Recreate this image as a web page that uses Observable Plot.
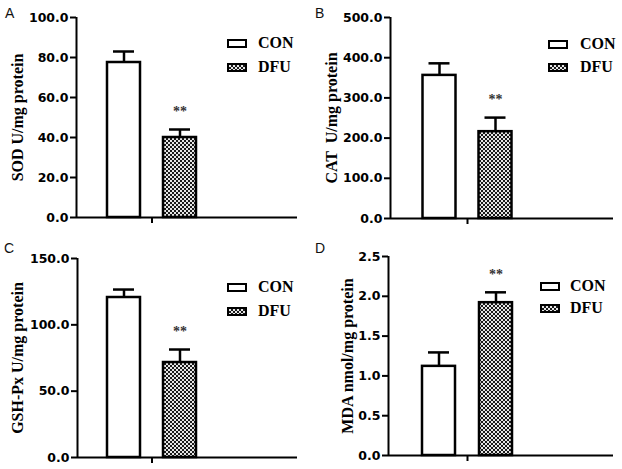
<!DOCTYPE html>
<html>
<head>
<meta charset="utf-8">
<script src="https://cdn.jsdelivr.net/npm/d3@7"></script>
<script src="https://cdn.jsdelivr.net/npm/@observablehq/plot@0.6"></script>
<style>
  html, body { margin: 0; padding: 0; background: white; }
  #fig { position: relative; width: 622px; height: 469px; overflow: hidden; background: white; }
  .panel { position: absolute; }
  .letter { position: absolute; font-family: "Liberation Sans", Arial, sans-serif; font-size: 14px; line-height: 14px; color: #111; }
  .lbox { position: absolute; width: 20px; height: 9px; border: 2.5px solid #000; box-sizing: border-box; }
  .ltext { position: absolute; font-family: "Liberation Serif", "Times New Roman", serif; font-weight: bold; font-size: 16px; line-height: 16px; color: #000; white-space: pre; }
  svg g[aria-label="y-axis tick"], svg g[aria-label="x-axis tick"] { stroke-width: 2px; }
  .tick line { stroke-width: 2px; }
</style>
</head>
<body>
<svg width="0" height="0" style="position:absolute">
  <defs>
    <pattern id="checker" width="4" height="4" patternUnits="userSpaceOnUse">
      <rect width="4" height="4" fill="#e6e6e6"></rect>
      <rect width="2" height="2" fill="#1a1a1a"></rect>
      <rect x="2" y="2" width="2" height="2" fill="#1a1a1a"></rect>
    </pattern>
  </defs>
</svg>
<div id="fig"></div>
<script>
// ---- data ----
const groups = ["CON", "DFU"];
const panelLetters = ["A", "B", "C", "D"];
const yLabels = ["SOD U/mg protein", "CAT  U/mg protein", "GSH-Px U/mg protein", "MDA nmol/mg protein"];
const sigMarks = ["", "**"];

const sodMean = [77.5, 40.0];
const sodErr = [5.5, 4.0];
const catMean = [356, 216];
const catErr = [30, 35];
const gshMean = [120.6, 71.6];
const gshErr = [6.0, 9.8];
const mdaMean = [1.12, 1.92];
const mdaErr = [0.175, 0.13];

const sodTicks = [0, 20, 40, 60, 80, 100];
const catTicks = [0, 100, 200, 300, 400, 500];
const gshTicks = [0, 50, 100, 150];
const mdaTicks = [0, 0.5, 1.0, 1.5, 2.0, 2.5];

const panels = [
  {means: sodMean, errs: sodErr, ticks: sodTicks},
  {means: catMean, errs: catErr, ticks: catTicks},
  {means: gshMean, errs: gshErr, ticks: gshTicks},
  {means: mdaMean, errs: mdaErr, ticks: mdaTicks}
];

// ---- layout (pixels) ----
const layouts = [
  {left: 0,   top: 0,   w: 311, h: 235, ml: 76, mr: 14, mt: 17, mb: 18, first: 47.5, step: 56, labelDx: -59, legX: 227, legY: 39, legGap: 24, textX: 258, letterX: 5},
  {left: 311, top: 0,   w: 311, h: 235, ml: 79, mr: 9,  mt: 17, mb: 17, first: 49,   step: 56, labelDx: -59, legX: 237, legY: 40, legGap: 23, textX: 269, letterX: 4},
  {left: 0,   top: 235, w: 311, h: 234, ml: 77, mr: 14, mt: 23, mb: 12, first: 46.5, step: 56, labelDx: -60, legX: 227, legY: 48, legGap: 24, textX: 258, letterX: 4},
  {left: 311, top: 235, w: 311, h: 234, ml: 77, mr: 9,  mt: 21, mb: 14, first: 50.5, step: 57, labelDx: -41, legX: 229, legY: 47, legGap: 22, textX: 259, letterX: 4}
];

const fig = document.getElementById("fig");
const serif = "'Liberation Serif', 'Times New Roman', serif";

panels.forEach((P, i) => {
  const L = layouts[i];
  const rows = groups.map((g, j) => ({group: g, pos: j + 1, mean: P.means[j], err: P.errs[j], sig: sigMarks[j]}));
  const frameW = L.w - L.ml - L.mr;
  const d0 = 1 - L.first / L.step;
  const d1 = d0 + frameW / L.step;
  const hw = 16.5 / L.step;   // half bar width
  const cw = 10.5 / L.step;   // half cap width
  const ymax = P.ticks[P.ticks.length - 1];

  const chart = Plot.plot({
    width: L.w, height: L.h,
    marginLeft: L.ml, marginRight: L.mr, marginTop: L.mt, marginBottom: L.mb,
    style: {fontFamily: "'DejaVu Sans', sans-serif", fontSize: "12.5px", fontWeight: "bold", color: "black", background: "white", overflow: "visible"},
    x: {domain: [d0, d1], ticks: [1.5], tickFormat: () => "", tickSize: 6, label: null},
    y: {domain: [0, ymax], ticks: P.ticks, tickFormat: d => d.toFixed(1), tickSize: 6, tickPadding: 2, label: null},
    marks: [
      Plot.rect(rows.filter(d => d.group === groups[0]), {x1: d => d.pos - hw, x2: d => d.pos + hw, y1: 0, y2: "mean", fill: "white", stroke: "black", strokeWidth: 2.5}),
      Plot.rect(rows.filter(d => d.group === groups[1]), {x1: d => d.pos - hw, x2: d => d.pos + hw, y1: 0, y2: "mean", fill: "url(#checker)", stroke: "black", strokeWidth: 2.5}),
      Plot.ruleX(rows, {x: "pos", y1: "mean", y2: d => d.mean + d.err, strokeWidth: 2.5}),
      Plot.ruleY(rows, {y: d => d.mean + d.err, x1: d => d.pos - cw, x2: d => d.pos + cw, strokeWidth: 2.5}),
      Plot.text(rows.filter(d => d.sig), {x: "pos", y: d => d.mean + d.err, text: "sig", dy: -18, fontFamily: serif, fontSize: 14, fontWeight: "bold", fill: "#333"}),
      Plot.ruleX([d0], {strokeWidth: 2}),
      Plot.ruleY([0], {strokeWidth: 2}),
      Plot.text([yLabels[i]], {frameAnchor: "left", textAnchor: "middle", lineAnchor: "middle", rotate: -90, dx: L.labelDx, text: d => d, fontFamily: serif, fontSize: 16, fontWeight: "bold"})
    ]
  });

  const div = document.createElement("div");
  div.className = "panel";
  div.style.left = L.left + "px";
  div.style.top = L.top + "px";
  div.style.width = L.w + "px";
  div.style.height = L.h + "px";
  div.appendChild(chart);

  // panel letter
  const letter = document.createElement("div");
  letter.className = "letter";
  letter.textContent = panelLetters[i];
  letter.style.left = L.letterX + "px";
  letter.style.top = "6px";
  div.appendChild(letter);

  // legend
  groups.forEach((g, j) => {
    const by = L.legY + j * L.legGap;
    const box = document.createElement("div");
    box.className = "lbox";
    box.style.left = L.legX + "px";
    box.style.top = by + "px";
    box.style.background = j === 0 ? "white" : "repeating-conic-gradient(#1a1a1a 0% 25%, #e6e6e6 0% 50%) 0 0 / 4px 4px";
    div.appendChild(box);
    const t = document.createElement("div");
    t.className = "ltext";
    t.textContent = g;
    t.style.left = L.textX + "px";
    t.style.top = (by - 3.6) + "px";
    div.appendChild(t);
  });

  fig.appendChild(div);
});
</script>
</body>
</html>
